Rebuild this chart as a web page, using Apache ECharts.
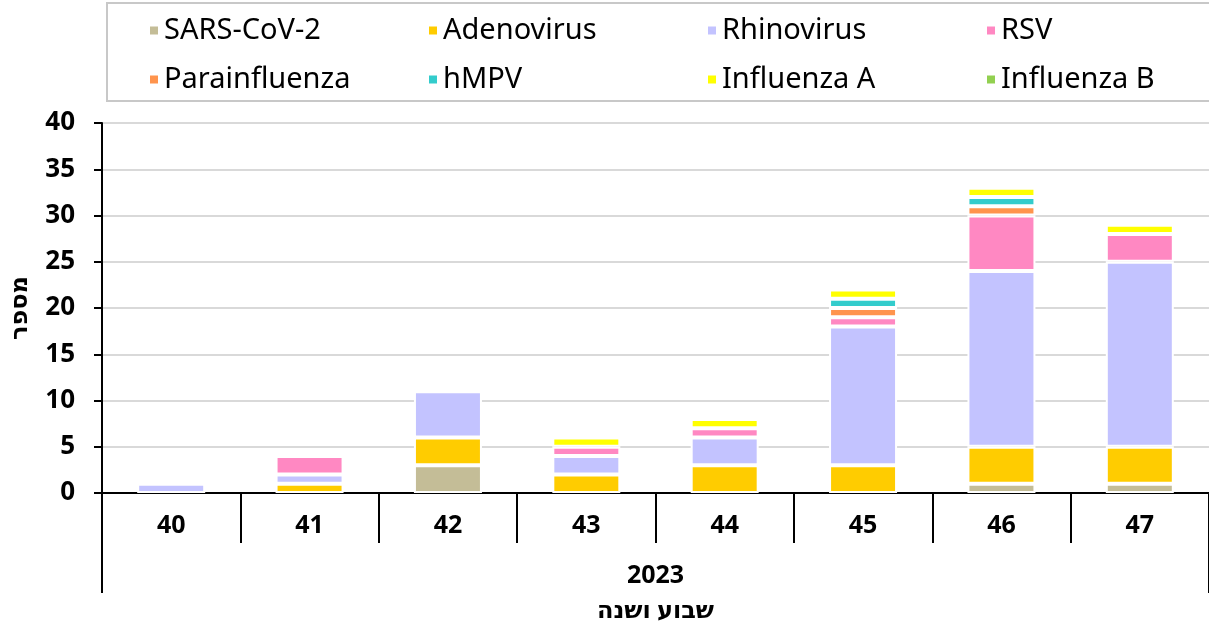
<!DOCTYPE html>
<html><head><meta charset="utf-8">
<script src="https://cdn.jsdelivr.net/npm/echarts@6/dist/echarts.min.js"></script>
<style>html,body{margin:0;padding:0;background:#fff}#c{width:1209px;height:628px}</style>
</head><body><div id="c"></div>
<script>
const weeks = ['40','41','42','43','44','45','46','47'];
const yearLabel = ['2023'];
const sarsCov2   = [0,0,3,0,0,0,1,1];
const adenovirus = [0,1,3,2,3,3,4,4];
const rhinovirus = [1,1,5,2,3,15,19,20];
const rsv        = [0,2,0,1,1,1,6,3];
const parainfl   = [0,0,0,0,0,1,1,0];
const hmpv       = [0,0,0,0,0,1,1,0];
const fluA       = [0,0,0,1,1,1,1,1];
const fluB       = [0,0,0,0,0,0,0,0];
const yTicks = {min:0, max:40, interval:5};

const FONT = '"Noto Sans","DejaVu Sans",sans-serif';
const seriesDefs = [
  ['SARS-CoV-2', sarsCov2, '#C4BD97'],
  ['Adenovirus', adenovirus, '#FFCC00'],
  ['Rhinovirus', rhinovirus, '#C3C3FF'],
  ['RSV', rsv, '#FF88C2'],
  ['Parainfluenza', parainfl, '#FF944D'],
  ['hMPV', hmpv, '#33CCCC'],
  ['Influenza A', fluA, '#FFFF00'],
  ['Influenza B', fluB, '#92D050']
];
const chart = echarts.init(document.getElementById('c'));
chart.setOption({
  animation:false,
  textStyle:{fontFamily:FONT},
  legend:{
    left:107, top:3, width:1100,
    padding:[13,80,7,41],
    borderColor:'#c8c8c8', borderWidth:2,
    itemWidth:10, itemHeight:10, itemGap:20,
    icon:'rect',
    textStyle:{fontSize:29, color:'#000', width:243, lineHeight:27, fontFamily:FONT},
    data: seriesDefs.map(d=>d[0])
  },
  grid:{left:100, top:123, width:1120, bottom:134, containLabel:false},
  xAxis:[{
    type:'category', data:weeks, position:'bottom',
    axisLine:{lineStyle:{color:'#000', width:2}},
    axisTick:{show:true, length:50, interval:0, lineStyle:{color:'#000', width:2}},
    axisLabel:{fontSize:25, fontWeight:'bold', color:'#000', margin:20, fontFamily:FONT}
  },{
    type:'category', data:yearLabel, position:'bottom',
    axisLine:{show:false},
    axisTick:{show:true, length:100, interval:0, lineStyle:{color:'#000', width:2}},
    axisLabel:{fontSize:25, fontWeight:'bold', color:'#000', margin:70, fontFamily:FONT},
    name:'שבוע ושנה', nameLocation:'middle', nameGap:106,
    nameTextStyle:{fontSize:24, fontWeight:'bold', color:'#000', fontFamily:FONT}
  }],
  yAxis:{
    type:'value', min:yTicks.min, max:yTicks.max, interval:yTicks.interval,
    axisLine:{show:true, lineStyle:{color:'#000', width:2}},
    axisTick:{show:true, length:8, lineStyle:{color:'#000', width:2}},
    axisLabel:{fontSize:26, fontWeight:'bold', color:'#000', margin:27, fontFamily:FONT},
    splitLine:{lineStyle:{color:'#d9d9d9', width:2}},
    name:'מספר', nameLocation:'middle', nameGap:70,
    nameTextStyle:{fontSize:24, fontWeight:'bold', color:'#000', fontFamily:FONT}
  },
  series: seriesDefs.map(([name, vals, color]) => ({
    name, type:'bar', stack:'all', xAxisIndex:0, barWidth:68,
    data: vals.map(v => v === 0 ? null : v),
    itemStyle:{color, borderColor:'#fff', borderWidth:2}
  }))
});
</script></body></html>
